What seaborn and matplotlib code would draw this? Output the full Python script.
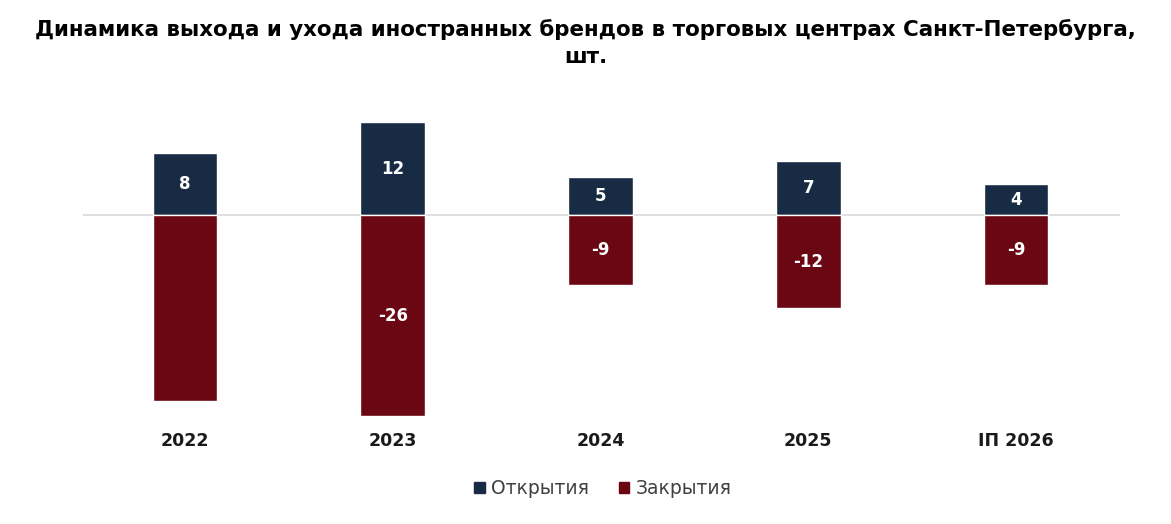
import seaborn as sns
import pandas as pd
import matplotlib.pyplot as plt
from matplotlib.patches import Patch

years = ['2022', '2023', '2024', '2025', 'IП 2026']
openings = [8, 12, 5, 7, 4]
closings = [-24, -26, -9, -12, -9]
closing_labels = ['', '-26', '-9', '-12', '-9']

C_OPEN = '#172b45'
C_CLOSE = '#6b0712'

sns.set_theme(style='white')
plt.rcParams['font.family'] = ['DejaVu Sans']

df = pd.DataFrame({
    'year': years * 2,
    'value': openings + closings,
    'kind': ['Открытия'] * len(years) + ['Закрытия'] * len(years),
})

fig = plt.figure(figsize=(11.71, 5.24), dpi=100)
ax = fig.add_axes([0.0709, 0.186, 0.8856, 0.595])

sns.barplot(data=df, x='year', y='value', hue='kind', dodge=False,
            palette={'Открытия': C_OPEN, 'Закрытия': C_CLOSE},
            saturation=1, width=0.31, ax=ax, legend=False)

ax.axhline(0, color='#d9d9d9', lw=1.2, zorder=0)
ax.set_xlim(-0.49, 4.5)
ax.set_ylim(-27.3, 13.0)
sns.despine(ax=ax, left=True, bottom=True)
ax.set_yticks([])
ax.set_xlabel('')
ax.set_ylabel('')
ax.tick_params(axis='x', length=0, pad=4)
for lab in ax.get_xticklabels():
    lab.set_fontweight('bold')
    lab.set_fontsize(12.5)
    lab.set_color('#1a1a1a')

for i, v in enumerate(openings):
    ax.text(i, v / 2, str(v), ha='center', va='center', color='white',
            fontsize=12, fontweight='bold')
for i, v in enumerate(closings):
    if closing_labels[i]:
        ax.text(i, v / 2, closing_labels[i], ha='center', va='center',
                color='white', fontsize=12, fontweight='bold')

fig.text(0.5, 0.918, 'Динамика выхода и ухода иностранных брендов в торговых центрах Санкт-Петербурга,\nшт.',
         ha='center', va='center', fontsize=15.4, fontweight='bold',
         color='black', linespacing=1.45)

handles = [Patch(color=C_OPEN, label='Открытия'),
           Patch(color=C_CLOSE, label='Закрытия')]
fig.legend(handles=handles, loc='center', bbox_to_anchor=(0.515, 0.067),
           ncol=2, frameon=False, fontsize=13.5, handlelength=0.55,
           handleheight=0.55, handletextpad=0.35, columnspacing=1.6,
           labelcolor='#404040')

fig.savefig('out.png', dpi=100)
